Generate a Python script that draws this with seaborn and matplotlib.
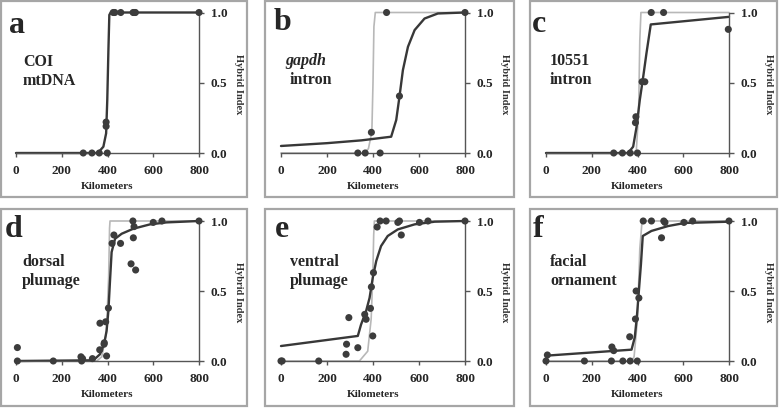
import matplotlib
matplotlib.use("Agg")
import matplotlib.pyplot as plt
from matplotlib.patches import Rectangle
import seaborn as sns

# --- data (km, hybrid index) ---
a_pts_x = [294, 332, 364, 399, 394, 394, 425, 432, 458, 512, 518, 522, 800]
a_pts_y = [0, 0, 0, 0, 0.22, 0.19, 1, 1, 1, 1, 1, 1, 1]
a_fit_x = [0, 353, 367, 382, 394, 399, 404, 408, 414, 800]
a_fit_y = [0, 0, 0.017, 0.045, 0.14, 0.378, 0.734, 0.983, 1.0, 1.0]

b_pts_x = [334, 366, 431, 393, 515, 459, 800]
b_pts_y = [0, 0, 0, 0.147, 0.405, 1, 1]
b_mt_x = [0, 360, 380, 395, 400, 404, 410, 800]
b_mt_y = [0, 0, 0.03, 0.15, 0.5, 0.9, 1, 1]
b_fit_x = [0, 200, 350, 479, 501, 515, 530, 552, 581, 624, 682, 800]
b_fit_y = [0.05, 0.07, 0.09, 0.116, 0.235, 0.40, 0.59, 0.756, 0.875, 0.957, 0.993, 1.0]

c_pts_x = [296, 334, 368, 400, 391, 393, 420, 432, 460, 514, 797]
c_pts_y = [0, 0, 0, 0, 0.216, 0.258, 0.507, 0.507, 1, 1, 0.88]
c_mt_x = [0, 380, 395, 405, 410, 415, 800]
c_mt_y = [0, 0, 0.02, 0.3, 0.8, 1, 1]
c_fit_x = [0, 359, 381, 396, 410, 425, 439, 458, 800]
c_fit_y = [0, 0, 0.045, 0.187, 0.377, 0.543, 0.708, 0.915, 0.969]

d_pts_x = [6, 6, 163, 284, 287, 291, 334, 366, 367, 385, 392, 396, 386, 404,
           420, 428, 457, 503, 511, 516, 513, 523, 600, 638, 800]
d_pts_y = [0, 0.096, 0, 0.03, 0, 0.017, 0.017, 0.08, 0.27, 0.12, 0.28, 0.036, 0.13, 0.378,
           0.84, 0.90, 0.84, 0.694, 1.0, 0.96, 0.88, 0.65, 0.99, 1.0, 1.0]
d_mt_x = [0, 353, 375, 395, 405, 409, 411, 800]
d_mt_y = [0, 0, 0.03, 0.2, 0.6, 0.95, 1, 1]
d_fit_x = [0, 338, 367, 385, 396, 404, 411, 418, 433, 462, 513, 586, 658, 800]
d_fit_y = [0, 0.005, 0.048, 0.12, 0.215, 0.36, 0.574, 0.778, 0.873, 0.909, 0.945, 0.976, 0.990, 1.0]

e_pts_x = [0, 5, 164, 295, 285, 283, 334, 364, 370, 389, 393, 402, 399, 418,
           431, 457, 508, 515, 523, 602, 639, 800]
e_pts_y = [0, 0, 0, 0.31, 0.12, 0.048, 0.095, 0.333, 0.298, 0.376, 0.529, 0.631, 0.179, 0.957,
           1, 1, 0.99, 1, 0.90, 0.99, 1, 1]
e_mt_x = [0, 341, 377, 392, 399, 403, 406, 800]
e_mt_y = [0, 0, 0.07, 0.3, 0.6, 0.9, 1, 1]
e_fit_x = [0, 334, 348, 370, 385, 399, 414, 435, 464, 508, 581, 668, 800]
e_fit_y = [0.107, 0.179, 0.26, 0.357, 0.45, 0.595, 0.714, 0.821, 0.893, 0.94, 0.976, 0.995, 1.0]

f_pts_x = [0, 6, 168, 286, 288, 296, 336, 368, 399, 366, 391, 394, 406, 425,
           461, 515, 520, 505, 603, 641, 800]
f_pts_y = [0, 0.043, 0, 0, 0.10, 0.074, 0, 0, 0, 0.173, 0.30, 0.50, 0.45, 1,
           1, 1, 0.99, 0.88, 0.99, 1, 1]
f_mt_x = [0, 374, 385, 400, 410, 420, 800]
f_mt_y = [0, 0, 0.03, 0.3, 0.8, 1, 1]
f_fit_x = [0, 374, 388, 397, 406, 415, 423, 461, 534, 607, 800]
f_fit_y = [0.038, 0.081, 0.169, 0.311, 0.50, 0.69, 0.893, 0.929, 0.964, 0.986, 0.995]

letters = ["a", "b", "c", "d", "e", "f"]
labels = [["COI", "mtDNA"], ["gapdh", "intron"], ["10551", "intron"],
          ["dorsal", "plumage"], ["ventral", "plumage"], ["facial", "ornament"]]
x_ticks = [0, 200, 400, 600, 800]
y_ticks = [0, 0.5, 1.0]
y_ticklabels = ["0.0", "0.5", "1.0"]

panels = [
    (a_pts_x, a_pts_y, None, None, a_fit_x, a_fit_y),
    (b_pts_x, b_pts_y, b_mt_x, b_mt_y, b_fit_x, b_fit_y),
    (c_pts_x, c_pts_y, c_mt_x, c_mt_y, c_fit_x, c_fit_y),
    (d_pts_x, d_pts_y, d_mt_x, d_mt_y, d_fit_x, d_fit_y),
    (e_pts_x, e_pts_y, e_mt_x, e_mt_y, e_fit_x, e_fit_y),
    (f_pts_x, f_pts_y, f_mt_x, f_mt_y, f_fit_x, f_fit_y),
]

sns.set_style("white")
plt.rcParams['font.family'] = ['Liberation Serif', 'DejaVu Serif']
plt.rcParams['font.weight'] = 'bold'

W, H = 779, 408
fig = plt.figure(figsize=(W / 100, H / 100), dpi=100)

# pixel layout
ax_left = [16, 281, 546]
ax_width = [183, 184, 183]
row_y0 = [153, 361]   # pixel row of y=0
row_y1 = [12.5, 221]  # pixel row of y=1
box_x = [(1, 247), (265, 514), (530, 777)]
box_y = [(1, 197), (209, 406)]
letter_pos = [(9, 33), (274, 30), (532, 32), (5, 237), (275, 237), (533, 237)]
label_pos = [(23, 66), (285, 65), (550, 65), (22, 266), (290, 266), (550, 266)]

dark = "#383838"
light = "#b8b8b8"

for i, (px, py, mx, my, fx, fy) in enumerate(panels):
    r, c = divmod(i, 3)
    # panel frame
    bx0, bx1 = box_x[c]
    by0, by1 = box_y[r]
    fig.patches.append(Rectangle((bx0 / W, 1 - by1 / H), (bx1 - bx0) / W, (by1 - by0) / H,
                                 transform=fig.transFigure, fill=False,
                                 edgecolor="#a6a6a6", linewidth=1.6))
    ax = fig.add_axes([ax_left[c] / W, 1 - row_y0[r] / H,
                       ax_width[c] / W, (row_y0[r] - row_y1[r]) / H])
    ax.patch.set_alpha(0)
    if mx is not None:
        sns.lineplot(x=mx, y=my, ax=ax, color=light, linewidth=1.2,
                     estimator=None, sort=False)
    sns.lineplot(x=fx, y=fy, ax=ax, color=dark, linewidth=1.7,
                 estimator=None, sort=False)
    sns.scatterplot(x=px, y=py, ax=ax, color="#3c3c3c", s=26,
                    edgecolor="none", zorder=5)
    for coll in ax.collections:
        coll.set_clip_on(False)
    for ln in ax.lines:
        ln.set_clip_on(False)

    ax.set_xlim(0, 800)
    ax.set_ylim(0, 1)
    for s in ["top", "left"]:
        ax.spines[s].set_visible(False)
    ax.spines["bottom"].set_color("#555555")
    ax.spines["right"].set_color("#555555")
    ax.spines["bottom"].set_linewidth(1.0)
    ax.spines["right"].set_linewidth(1.0)
    ax.yaxis.tick_right()
    ax.yaxis.set_label_position("right")
    ax.set_xticks(x_ticks)
    ax.set_xticklabels([str(t) for t in x_ticks])
    ax.set_yticks(y_ticks)
    ax.set_yticklabels(y_ticklabels)
    ax.tick_params(axis="x", direction="out", length=3, width=1, color="#555555",
                   pad=6, labelsize=9.5, bottom=True)
    ax.tick_params(axis="y", direction="out", length=3.5, width=1, color="#555555",
                   pad=5, labelsize=9.5, right=True, left=False)
    ax.set_xlabel("Kilometers", fontsize=8, fontweight="bold", labelpad=3)
    ax.set_ylabel("Hybrid Index", fontsize=7.5, fontweight="bold", rotation=270,
                  ha="center", va="center", color="#333333")
    ax.yaxis.set_label_coords(1.215, 0.49)
    ax.grid(False)

    lx, ly = letter_pos[i]
    fig.text(lx / W, 1 - ly / H, letters[i], fontsize=23, fontweight="bold",
             ha="left", va="baseline")
    tx, ty = label_pos[i]
    first_style = "italic" if letters[i] == "b" else "normal"
    fig.text(tx / W, 1 - ty / H, labels[i][0], fontsize=11.5, fontweight="bold",
             style=first_style, ha="left", va="baseline")
    fig.text(tx / W + (5 / W if letters[i] == "b" else 0), 1 - (ty + 19) / H,
             labels[i][1], fontsize=11.5, fontweight="bold", ha="left", va="baseline")

fig.savefig("out.png", dpi=100)
